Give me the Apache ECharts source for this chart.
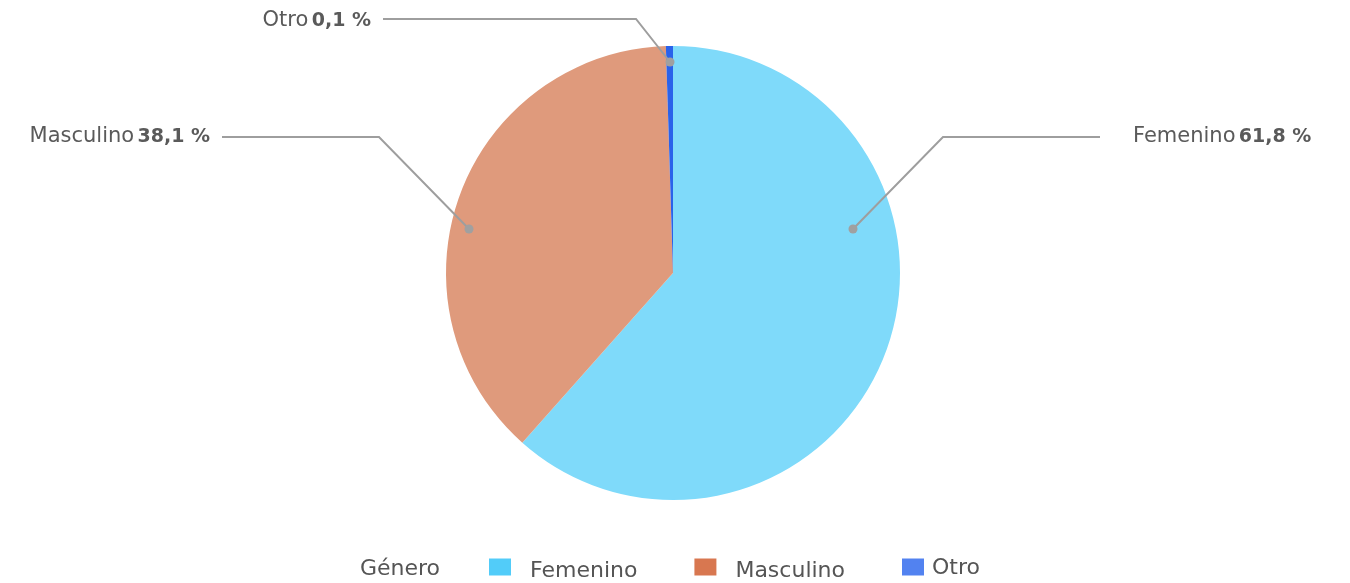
<!DOCTYPE html>
<html>
<head>
<meta charset="utf-8">
<script src="https://cdn.jsdelivr.net/npm/echarts@6/dist/echarts.min.js"></script>
<style>
  html, body { margin: 0; padding: 0; background: #fff; }
  #chart { width: 1350px; height: 583px; }
</style>
</head>
<body>
<div id="chart"></div>
<script>
// Data
const categories = ['Femenino', 'Masculino', 'Otro'];
const shares = [61.8, 38.1, 0.1];
const legendTitle = 'Género';

// Colours: slices are drawn lighter than the legend swatches
const sliceColors = ['#7fdafa', '#df9a7c', '#2a62ea'];
const legendColors = ['#52ccf9', '#d87750', '#5282f0'];

// Pie geometry and label anchors (offsets from the pie centre, px)
const CX = 673, CY = 273, R = 227;
const labelAnchors = [
    { dot: [180, -44], elbow: [270, -136], end: [427, -136], text: [460, -136], align: 'left' },
    { dot: [-204, -44], elbow: [-294, -136], end: [-451, -136], text: [-463, -136], align: 'right' },
    { dot: [-3, -211], elbow: [-37, -254], end: [-290, -254], text: [-302, -252], align: 'right' }
];

const FONT = '"DejaVu Sans", sans-serif';
const fmt = v => v.toFixed(1).replace('.', ',') + ' %';
const at = p => [CX + p[0], CY + p[1]];

const chart = echarts.init(document.getElementById('chart'), null, { renderer: 'canvas' });

// leader lines and their dots sit on top of the slices
const leaders = [];
labelAnchors.forEach(a => {
    leaders.push({
        type: 'polyline', z: 100,
        shape: { points: [at(a.dot), at(a.elbow), at(a.end)] },
        style: { stroke: '#9e9e9e', lineWidth: 2, fill: null }
    });
    const p = at(a.dot);
    leaders.push({ type: 'circle', z: 101, shape: { cx: p[0], cy: p[1], r: 4.5 }, style: { fill: '#a0a0a0' } });
});

chart.setOption({
    animation: false,
    title: {
        text: legendTitle, left: 355, top: 553,
        textStyle: { color: '#555', fontSize: 22, fontWeight: 'normal', fontFamily: FONT }
    },
    legend: {
        left: 484, top: 552, itemGap: 57, itemWidth: 22, itemHeight: 17, icon: 'rect',
        selectedMode: false,
        // "Otro" sits a little higher and closer to its swatch in the original
        formatter: name => name === 'Otro' ? '{o|' + name + '}' : '{t|' + name + '}',
        textStyle: {
            color: '#555', fontSize: 22, fontFamily: FONT,
            rich: {
                t: { color: '#555', fontSize: 22, fontFamily: FONT, padding: [8, 0, 0, 14] },
                o: { color: '#555', fontSize: 22, fontFamily: FONT, padding: [2, 0, 0, 3] }
            }
        },
        data: categories.map((c, i) => ({ name: c, itemStyle: { color: legendColors[i] } }))
    },
    graphic: leaders,
    series: [{
        type: 'pie',
        center: [CX, CY],
        radius: R,
        startAngle: 90,
        clockwise: true,
        minAngle: 1.8,
        avoidLabelOverlap: false,
        emphasis: { disabled: true },
        itemStyle: { borderWidth: 0 },
        data: categories.map((c, i) => ({ name: c, value: shares[i], itemStyle: { color: sliceColors[i] } })),
        label: {
            show: true,
            position: 'outside',
            formatter: p => '{n|' + p.name + '} {v|' + fmt(p.value) + '}',
            rich: {
                n: { color: '#5a5a5a', fontSize: 21, fontFamily: FONT },
                v: { color: '#5a5a5a', fontSize: 19, fontFamily: FONT, fontWeight: 'bold' }
            }
        },
        labelLine: { show: false },
        labelLayout: params => {
            const a = labelAnchors[params.dataIndex];
            const t = at(a.text);
            return { x: t[0], y: t[1], align: a.align, verticalAlign: 'middle' };
        }
    }]
});
</script>
</body>
</html>
